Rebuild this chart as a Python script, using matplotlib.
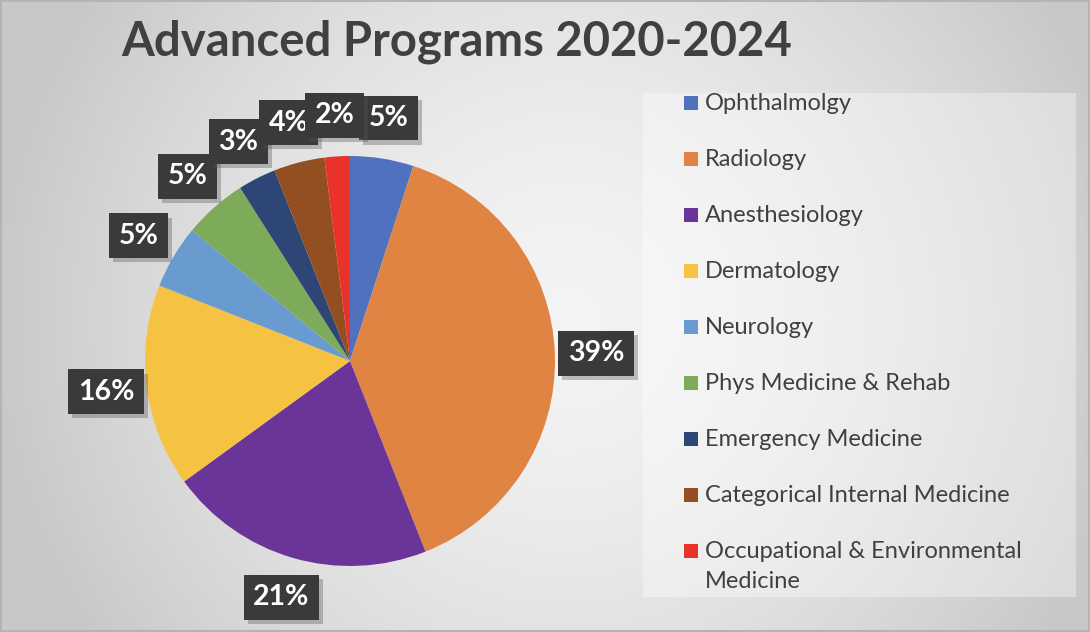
import numpy as np
import matplotlib
matplotlib.use("Agg")
import matplotlib.pyplot as plt
from matplotlib.patches import Rectangle
import matplotlib.patheffects as pe

# ---- data ----
categories = ["Ophthalmolgy", "Radiology", "Anesthesiology", "Dermatology",
              "Neurology", "Phys Medicine & Rehab", "Emergency Medicine",
              "Categorical Internal Medicine",
              "Occupational & Environmental\nMedicine"]
values = [5, 39, 21, 16, 5, 5, 3, 4, 2]
colors = ["#5072BE", "#E08444", "#6A3499", "#F5C242", "#699BD1",
          "#7DAB5A", "#2E4676", "#934E22", "#E8322A"]
title = "Advanced Programs 2020-2024"

FONT = "Lato"
W, H = 1090, 632
fig = plt.figure(figsize=(W / 100, H / 100), dpi=100)

# ---- radial gradient background ----
bg = fig.add_axes([0, 0, 1, 1])
yy, xx = np.mgrid[0:H, 0:W]
cx, cy = 0.52 * W, 0.5 * H
d = np.sqrt(((xx - cx) / (0.62 * W)) ** 2 + ((yy - cy) / (0.62 * W)) ** 2)
d = np.clip(d / 0.85, 0, 1)
g = 0.955 - 0.17 * d ** 1.6
bg.imshow(np.dstack([g, g, g]), extent=[0, 1, 0, 1], aspect="auto", origin="upper")
bg.set_xlim(0, 1)
bg.set_ylim(0, 1)
bg.axis("off")
# frame
bg.add_patch(Rectangle((0.0005, 0.001), 0.999, 0.997, fill=False, ec="#b4b4b4", lw=1.5,
                       transform=bg.transAxes))

# ---- pie ----
R = 205  # pixel radius
L = 1.5
cxp, cyp = 350, 361
side = 2 * L * R
ax = fig.add_axes([(cxp - side / 2) / W, (H - cyp - side / 2) / H, side / W, side / H])
wedges, texts, autotexts = ax.pie(values, colors=colors, startangle=90, counterclock=False,
                                  autopct=lambda p: f"{p:.0f}%", pctdistance=1.2,
                                  wedgeprops=dict(linewidth=0),
                                  textprops=dict(color="white", fontsize=20.5,
                                                 fontweight="bold", family=FONT))
ax.set_xlim(-L, L)
ax.set_ylim(-L, L)
ax.set_aspect("equal")
ax.axis("off")
for t in autotexts:
    t.set_bbox(dict(boxstyle="square,pad=0.33", fc="#3a3a3a", ec="none"))
    t.get_bbox_patch().set_path_effects([pe.SimplePatchShadow(offset=(3, -3), alpha=0.35,
                                                              shadow_rgbFace="#555555"),
                                         pe.Normal()])
    t.set_clip_on(False)

# ---- title ----
fig.text(457 / W, 1 - 42 / H, title, ha="center", va="center", fontsize=34,
         fontweight="bold", color="#404040", family=FONT)

# ---- legend ----
lx0, ly0, lx1, ly1 = 643, 93, 1076, 597
bg.add_patch(Rectangle((lx0 / W, 1 - ly1 / H), (lx1 - lx0) / W, (ly1 - ly0) / H,
                       fc="white", alpha=0.35, ec="none", transform=bg.transAxes))
row0, step = 103, 56
for i, (lab, col) in enumerate(zip(categories, colors)):
    yc = row0 + i * step
    s = 14
    bg.add_patch(Rectangle((684 / W, 1 - (yc + s / 2) / H), s / W, s / H, fc=col, ec="none",
                           transform=bg.transAxes))
    fig.text(705 / W, 1 - (yc - 10) / H, lab, ha="left", va="top", fontsize=17,
             color="#404040", family=FONT, linespacing=1.55)

fig.savefig("out.png", dpi=100)
